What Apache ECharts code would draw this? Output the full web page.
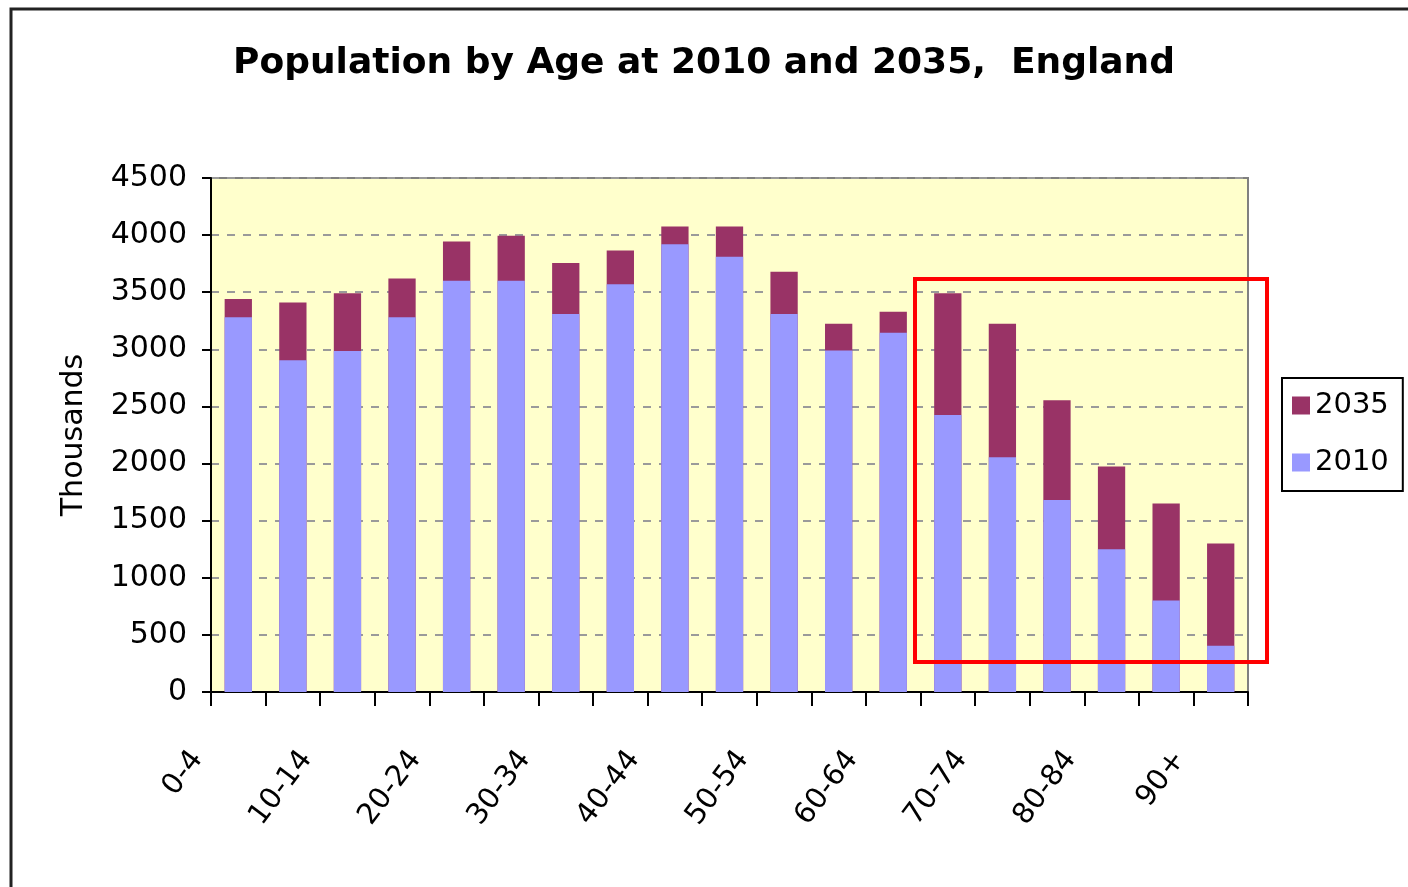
<!DOCTYPE html>
<html lang="en">
<head>
    <meta charset="UTF-8">
    <title>Population by Age at 2010 and 2035, England</title>
    <script src="https://cdn.jsdelivr.net/npm/echarts@6/dist/echarts.min.js"></script>
    <style>
        body { margin: 0; padding: 0; background: #fff; }
        #main { width: 1408px; height: 887px; }
    </style>
</head>
<body>
    <div id="main"></div>
    <script type="text/javascript">
        // age bands
        var ageGroups = ['0-4', '5-9', '10-14', '15-19', '20-24', '25-29', '30-34', '35-39', '40-44',
            '45-49', '50-54', '55-59', '60-64', '65-69', '70-74', '75-79', '80-84', '85-89', '90+'];
        // population in thousands
        var pop2010 = [3280, 2905, 2985, 3280, 3600, 3600, 3310, 3570, 3920, 3810,
            3310, 2990, 3145, 2425, 2055, 1680, 1250, 800, 405];
        var pop2035 = [3440, 3410, 3490, 3620, 3945, 3995, 3755, 3865, 4075, 4075,
            3680, 3225, 3330, 3490, 3225, 2555, 1975, 1650, 1300];

        var font = '"DejaVu Sans", Arial, sans-serif';
        var chart = echarts.init(document.getElementById('main'));

        var option = {
            animation: false,
            backgroundColor: '#fff',
            title: {
                text: 'Population by Age at 2010 and 2035,  England',
                left: 'center',
                top: 41,
                textStyle: { fontFamily: font, fontSize: 36, fontWeight: 'bold', color: '#000' }
            },
            legend: {
                data: ['2035', '2010'],
                orient: 'vertical',
                left: 1282,
                top: 378,
                padding: [13, 14, 14, 10],
                itemWidth: 18,
                itemHeight: 18,
                itemGap: 28,
                icon: 'rect',
                borderColor: '#000',
                borderWidth: 2,
                textStyle: { fontFamily: font, fontSize: 29, color: '#000' }
            },
            grid: {
                left: 211,
                top: 178,
                right: 160,
                bottom: 195,
                show: true,
                backgroundColor: '#FFFFCC',
                borderColor: '#808080',
                borderWidth: 2
            },
            xAxis: {
                type: 'category',
                data: ageGroups,
                axisLine: { lineStyle: { color: '#000', width: 2 } },
                axisTick: { show: true, interval: 0, length: 14, lineStyle: { color: '#000', width: 2 } },
                axisLabel: {
                    interval: 1,
                    rotate: 53,
                    margin: 8,
                    padding: [0, 68, 0, 0],
                    fontFamily: font,
                    fontSize: 29,
                    color: '#000'
                }
            },
            yAxis: {
                type: 'value',
                min: 0,
                max: 4500,
                interval: 500,
                name: 'Thousands',
                nameLocation: 'middle',
                nameGap: 122,
                nameRotate: 90,
                nameTextStyle: { fontFamily: font, fontSize: 30, color: '#000' },
                axisLine: { show: true, lineStyle: { color: '#000', width: 2 } },
                axisTick: { show: true, length: 9, lineStyle: { color: '#000', width: 2 } },
                axisLabel: {
                    fontFamily: font,
                    fontSize: 30,
                    color: '#000',
                    margin: 24,
                    formatter: function (v) { return String(v); }
                },
                splitLine: { lineStyle: { color: '#9a9a9a', type: [8, 8], width: 2 } }
            },
            series: [
                {
                    name: '2035',
                    type: 'bar',
                    data: pop2035,
                    barWidth: '50%',
                    barGap: '-100%',
                    itemStyle: { color: '#993366' }
                },
                {
                    name: '2010',
                    type: 'bar',
                    data: pop2010,
                    barWidth: '50%',
                    barGap: '-100%',
                    itemStyle: { color: '#9999FF' }
                }
            ],
            graphic: [
                {
                    type: 'rect',
                    shape: { x: 11, y: 9, width: 1500, height: 1000 },
                    style: { fill: 'none', stroke: '#222', lineWidth: 3 },
                    silent: true
                },
                {
                    type: 'rect',
                    shape: { x: 915, y: 279, width: 352, height: 383 },
                    style: { fill: 'none', stroke: '#ff0000', lineWidth: 4 },
                    z: 100,
                    silent: true
                }
            ]
        };

        chart.setOption(option);
    </script>
</body>
</html>
